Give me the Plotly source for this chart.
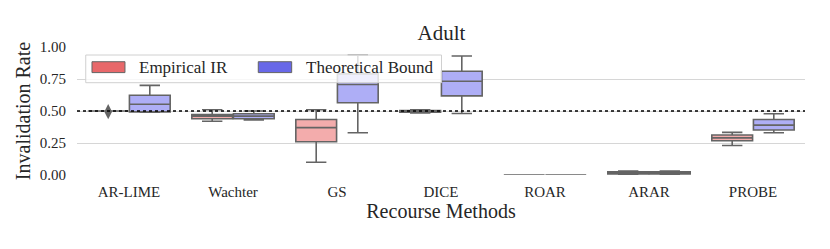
import plotly.graph_objects as go

categories = ["AR-LIME", "Wachter", "GS", "DICE", "ROAR", "ARAR", "PROBE"]

emp_lower = [0.50, 0.42, 0.10, 0.485, 0.0, 0.0, 0.23]
emp_q1 = [0.50, 0.44, 0.26, 0.490, 0.0, 0.008, 0.267]
emp_median = [0.50, 0.46, 0.37, 0.497, 0.0, 0.02, 0.29]
emp_q3 = [0.50, 0.473, 0.434, 0.503, 0.0, 0.025, 0.312]
emp_upper = [0.50, 0.51, 0.51, 0.51, 0.0, 0.03, 0.333]

theo_lower = [0.49, 0.43, 0.33, 0.48, 0.0, 0.0, 0.33]
theo_q1 = [0.493, 0.44, 0.564, 0.618, 0.0, 0.008, 0.351]
theo_median = [0.553, 0.46, 0.707, 0.733, 0.0, 0.015, 0.39]
theo_q3 = [0.623, 0.478, 0.79, 0.811, 0.0, 0.025, 0.434]
theo_upper = [0.70, 0.50, 0.935, 0.93, 0.0, 0.03, 0.478]

emp_outlier_x = ["AR-LIME"]
emp_outlier_y = [0.495]

series_names = ["Empirical IR", "Theoretical Bound"]
reference_level = 0.5

FONT = "Liberation Serif"
TXT = "#262626"
EDGE = "#646464"
RED_FILL = "#F3ACAC"
BLUE_FILL = "#AEAEF6"
RED_PATCH = "#E8686A"
BLUE_PATCH = "#6868E8"

fig = go.Figure()
fig.add_trace(go.Box(
    x=categories, q1=emp_q1, median=emp_median, q3=emp_q3,
    lowerfence=emp_lower, upperfence=emp_upper,
    name=series_names[0], offsetgroup="emp",
    fillcolor=RED_FILL, line=dict(color=EDGE, width=1.6),
    whiskerwidth=0.5, showlegend=False, boxpoints=False,
))
fig.add_trace(go.Box(
    x=categories, q1=theo_q1, median=theo_median, q3=theo_q3,
    lowerfence=theo_lower, upperfence=theo_upper,
    name=series_names[1], offsetgroup="theo",
    fillcolor=BLUE_FILL, line=dict(color=EDGE, width=1.6),
    whiskerwidth=0.5, showlegend=False, boxpoints=False,
))
fig.add_trace(go.Scatter(
    x=emp_outlier_x, y=emp_outlier_y, mode="markers", offsetgroup="emp",
    marker=dict(symbol="diamond-tall", size=11, color=EDGE),
    showlegend=False, hoverinfo="skip", cliponaxis=False,
))
fig.add_trace(go.Scatter(
    x=emp_outlier_x, y=[None], mode="markers", offsetgroup="theo",
    showlegend=False, hoverinfo="skip",
))

# reference line
fig.add_shape(type="line", xref="paper", x0=0, x1=1, yref="y",
              y0=reference_level, y1=reference_level,
              line=dict(color="black", width=1.5, dash="dot"), layer="above")

# manual legend
fig.add_shape(type="rect", xref="paper", yref="paper", x0=0.012, x1=0.5007,
              y0=0.721, y1=0.9375, fillcolor="rgba(255,255,255,0.8)",
              line=dict(color="#d0d0d0", width=1), layer="above")
fig.add_shape(type="rect", xref="paper", yref="paper", x0=0.0206, x1=0.0659,
              y0=0.80, y1=0.885, fillcolor=RED_PATCH,
              line=dict(color=EDGE, width=1), layer="above")
fig.add_shape(type="rect", xref="paper", yref="paper", x0=0.249, x1=0.2949,
              y0=0.80, y1=0.885, fillcolor=BLUE_PATCH,
              line=dict(color=EDGE, width=1), layer="above")
fig.add_annotation(x=0.0824, y=0.84, xref="paper", yref="paper", text=series_names[0],
                   showarrow=False, xanchor="left", yanchor="middle",
                   font=dict(family=FONT, size=17, color=TXT))
fig.add_annotation(x=0.3122, y=0.84, xref="paper", yref="paper", text=series_names[1],
                   showarrow=False, xanchor="left", yanchor="middle",
                   font=dict(family=FONT, size=17, color=TXT))

fig.update_layout(
    width=814, height=233,
    margin=dict(l=69, r=17, t=39, b=66, autoexpand=False),
    paper_bgcolor="white", plot_bgcolor="white",
    boxmode="group", boxgap=0.2, boxgroupgap=0.02,
    scattermode="group", scattergap=0.2,
    title=dict(text="Adult", x=0.5326, xanchor="center", y=0.893, yanchor="middle",
               font=dict(family=FONT, size=21, color=TXT)),
    font=dict(family=FONT, color=TXT),
    showlegend=False,
)
fig.update_xaxes(
    title=dict(text="Recourse Methods", font=dict(family=FONT, size=20, color=TXT), standoff=4),
    tickfont=dict(family=FONT, size=15, color=TXT),
    showgrid=False, showline=False, zeroline=False, ticks="",
    categoryorder="array", categoryarray=categories, automargin=False,
    ticklabelstandoff=6,
)
fig.update_yaxes(
    title=dict(text="Invalidation Rate", font=dict(family=FONT, size=20, color=TXT), standoff=3),
    tickfont=dict(family=FONT, size=15, color=TXT),
    range=[0, 1.0], tickvals=[0, 0.25, 0.5, 0.75, 1.0],
    ticktext=["0.00", "0.25", "0.50", "0.75", "1.00"],
    showgrid=True, gridcolor="#d6d6d6", gridwidth=1,
    zeroline=False, showline=False, ticks="", ticklabelstandoff=10, automargin=False,
)

fig.write_html("out.html")
